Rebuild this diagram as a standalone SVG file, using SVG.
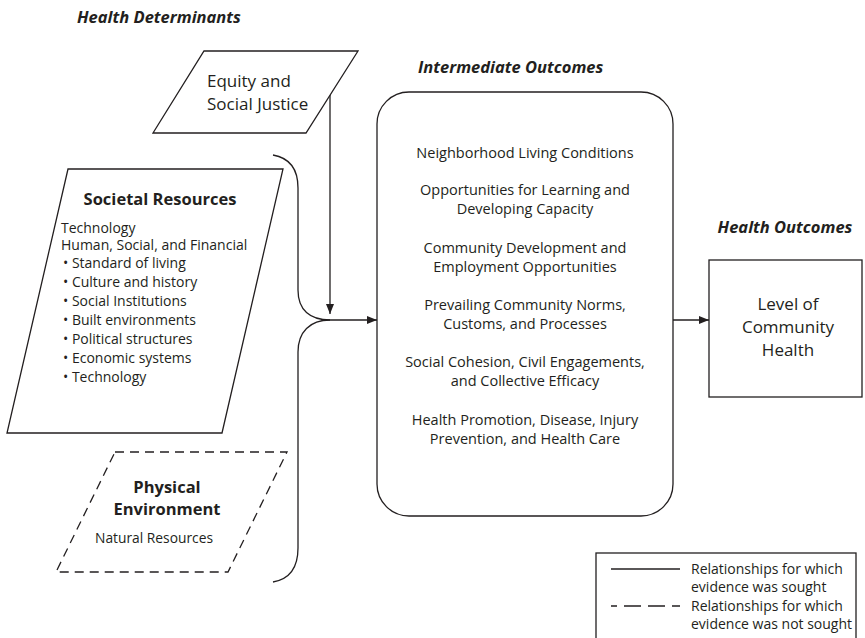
<svg xmlns="http://www.w3.org/2000/svg" width="865" height="638" viewBox="0 0 865 638">
  <style>
    text { font-family: "Open Sans", "Noto Sans", "Liberation Sans", sans-serif; fill: #231f20; }
    .head { font-weight: bold; font-style: italic; font-size: 16.5px; }
    .bold { font-weight: bold; }
    .shape { fill: #ffffff; stroke: #231f20; stroke-width: 1.3; }
    .dash { stroke-dasharray: 9 6; }
    .link { fill: none; stroke: #231f20; stroke-width: 1.3; }
    .mid { text-anchor: middle; }
  </style>
  <defs>
    <marker id="arrow" viewBox="0 0 10 8" refX="10" refY="4" markerWidth="10" markerHeight="8" markerUnits="userSpaceOnUse" orient="auto">
      <path d="M0,0 L10,4 L0,8 Z" fill="#231f20"/>
    </marker>
  </defs>
  <rect width="865" height="638" fill="#ffffff"/>

  <!-- column headings -->
  <text class="head" x="77" y="23">Health Determinants</text>
  <text class="head" x="418" y="73">Intermediate Outcomes</text>
  <text class="head mid" x="785" y="233">Health Outcomes</text>

  <!-- connectors -->
  <g id="connectors">
    <path class="link" d="M330,95 L330,314" marker-end="url(#arrow)"/>
    <path class="link" d="M273,155 C290,158 298,170 298,188 L298,290 C298,310 310,320 330,320"/>
    <path class="link" d="M330,320 C310,320 298,332 298,352 L298,548 C298,568 290,579 273,582"/>
    <path class="link" d="M330,320 L377,320" marker-end="url(#arrow)"/>
    <path class="link" d="M673,320 L709,320" marker-end="url(#arrow)"/>
  </g>

  <g id="equity">
    <polygon class="shape" points="204,51 358,51 306,133 153,133"/>
    <text x="207" y="87" font-size="17">Equity and</text>
    <text x="207" y="110" font-size="17">Social Justice</text>
  </g>

  <g id="societal-resources">
    <polygon class="shape" points="68,169 283,169 222,433 7,433"/>
    <text class="bold mid" x="160" y="205" font-size="16.5">Societal Resources</text>
    <g font-size="14">
      <text x="61" y="232.5">Technology</text>
      <text x="61" y="249.5">Human, Social, and Financial</text>
      <text x="63" y="268">• Standard of living</text>
      <text x="63" y="287">• Culture and history</text>
      <text x="63" y="306">• Social Institutions</text>
      <text x="63" y="325">• Built environments</text>
      <text x="63" y="344">• Political structures</text>
      <text x="63" y="363">• Economic systems</text>
      <text x="63" y="382">• Technology</text>
    </g>
  </g>

  <g id="physical-environment">
    <polygon class="shape dash" points="115,452 287,452 228,572 56,572"/>
    <text class="bold mid" x="167" y="493" font-size="16.5">Physical</text>
    <text class="bold mid" x="167" y="515" font-size="16.5">Environment</text>
    <text class="mid" x="154" y="543" font-size="13.8">Natural Resources</text>
  </g>

  <g id="intermediate-outcomes">
    <rect class="shape" x="377" y="92" width="296" height="424" rx="32" ry="32"/>
    <g font-size="14.5" class="mid">
      <text x="525" y="158">Neighborhood Living Conditions</text>
      <text x="525" y="195">Opportunities for Learning and</text>
      <text x="525" y="214">Developing Capacity</text>
      <text x="525" y="253">Community Development and</text>
      <text x="525" y="272">Employment Opportunities</text>
      <text x="525" y="310">Prevailing Community Norms,</text>
      <text x="525" y="329">Customs, and Processes</text>
      <text x="525" y="367">Social Cohesion, Civil Engagements,</text>
      <text x="525" y="386">and Collective Efficacy</text>
      <text x="525" y="425">Health Promotion, Disease, Injury</text>
      <text x="525" y="444">Prevention, and Health Care</text>
    </g>
  </g>

  <g id="community-health">
    <rect class="shape" x="709" y="260" width="153" height="137"/>
    <g font-size="17" class="mid">
      <text x="788" y="310">Level of</text>
      <text x="788" y="333">Community</text>
      <text x="788" y="356">Health</text>
    </g>
  </g>

  <g id="legend">
    <rect class="shape" x="596" y="553" width="260" height="100"/>
    <line class="link" x1="611" y1="569" x2="680" y2="569"/>
    <line class="link" x1="611" y1="606" x2="680" y2="606" stroke-dasharray="17 7" stroke-dashoffset="11"/>
    <g font-size="14">
      <text x="691" y="574">Relationships for which</text>
      <text x="691" y="592">evidence was sought</text>
      <text x="691" y="611">Relationships for which</text>
      <text x="691" y="629">evidence was not sought</text>
    </g>
  </g>
</svg>
